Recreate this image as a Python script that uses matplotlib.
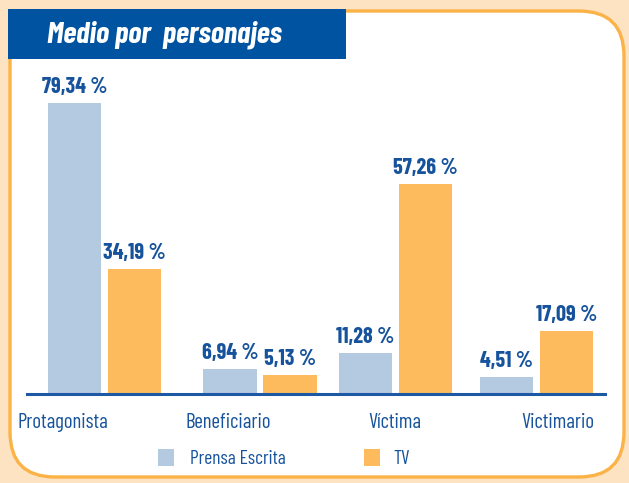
import matplotlib.pyplot as plt
from matplotlib.patches import FancyBboxPatch, Rectangle

categorias = ['Protagonista', 'Beneficiario', 'Víctima', 'Victimario']
prensa = [79.34, 6.94, 11.28, 4.51]
tv = [34.19, 5.13, 57.26, 17.09]
series = ['Prensa Escrita', 'TV']
titulo = 'Medio por  personajes'

c_fondo = '#fde3c2'
c_borde = '#fbb246'
c_azul = '#0053a0'
c_texto = '#17539c'
c_prensa = '#b4cae0'
c_tv = '#fdbb5e'

fam = ['Barlow Condensed', 'DejaVu Sans']

W, H = 629, 483
fig = plt.figure(figsize=(W / 100, H / 100), dpi=100)
fig.patch.set_facecolor(c_fondo)

# decoration layer in pixel coords
bg = fig.add_axes([0, 0, 1, 1])
bg.set_xlim(0, W)
bg.set_ylim(H, 0)
bg.axis('off')
bg.add_patch(FancyBboxPatch((10, 11), 614, 466, boxstyle='round,pad=0,rounding_size=45',
                            fc='white', ec=c_borde, lw=2.4))
bg.add_patch(Rectangle((8, 9), 338, 50, fc=c_azul, ec='none'))
bg.text(47, 35, titulo, color='white', fontsize=22, fontweight='bold', style='italic',
        family=fam, va='center', ha='left')

# bars
pos = [0, 1.08, 2.02, 3.0]
w = 0.37
off = 0.208
ax = fig.add_axes([27 / W, 89 / H, 578 / W, 367 / H])
ax.set_facecolor('none')
ax.set_xlim(-0.538, 3.476)
ax.set_ylim(0, 100)
b1 = ax.bar([p - off for p in pos], prensa, w, color=c_prensa, label=series[0])
b2 = ax.bar([p + off for p in pos], tv, w, color=c_tv, label=series[1])
for bars, vals in ((b1, prensa), (b2, tv)):
    for r, v in zip(bars, vals):
        ax.annotate(f'{v:.2f} %'.replace('.', ','), (r.get_x() + r.get_width() / 2, v),
                    xytext=(0, 11.5), textcoords='offset points', ha='center', va='center',
                    color=c_texto, fontsize=16, fontweight='bold', family=fam)
for s in ['top', 'right', 'left']:
    ax.spines[s].set_visible(False)
ax.spines['bottom'].set_color('#1c58a3')
ax.spines['bottom'].set_linewidth(2.2)
ax.set_xticks([])
ax.set_yticks([])

# category labels
lab_x = [63, 228, 395, 558]
for x, c in zip(lab_x, categorias):
    bg.text(x, 422, c, color=c_texto, fontsize=15, family=fam, ha='center', va='center')

# legend
bg.add_patch(Rectangle((158, 449), 16, 17, fc=c_prensa, ec='none'))
bg.text(190, 459, series[0], color=c_texto, fontsize=14, family=fam, va='center')
bg.add_patch(Rectangle((364, 449), 16, 17, fc=c_tv, ec='none'))
bg.text(393, 459, series[1], color=c_texto, fontsize=14, family=fam, va='center')

fig.savefig('out.png', dpi=100, facecolor=fig.get_facecolor())
